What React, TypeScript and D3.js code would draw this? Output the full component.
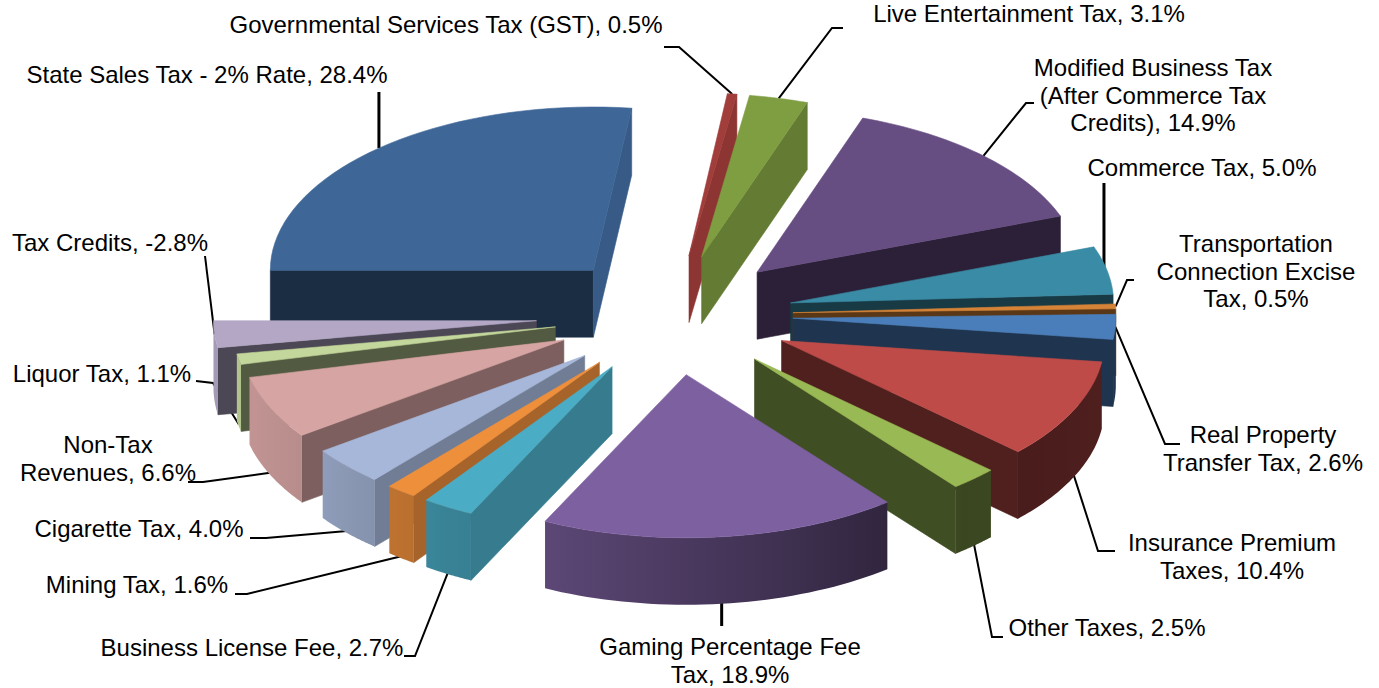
import * as d3 from "d3";

// Revenue shares, clockwise from the nine o'clock position.
const categories = [
  "State Sales Tax - 2% Rate",
  "Governmental Services Tax (GST)",
  "Live Entertainment Tax",
  "Modified Business Tax (After Commerce Tax Credits)",
  "Commerce Tax",
  "Transportation Connection Excise Tax",
  "Real Property Transfer Tax",
  "Insurance Premium Taxes",
  "Other Taxes",
  "Gaming Percentage Fee Tax",
  "Business License Fee",
  "Mining Tax",
  "Cigarette Tax",
  "Non-Tax Revenues",
  "Liquor Tax",
  "Tax Credits",
];
const shares = [28.4, 0.5, 3.1, 14.9, 5.0, 0.5, 2.6, 10.4, 2.5, 18.9, 2.7, 1.6, 4.0, 6.6, 1.1, -2.8];
const topColors = [
  "#3e6798", "#a13d3a", "#7f9e41", "#664d82", "#3a8ba5", "#d58337", "#4a7ebb", "#be4b48",
  "#98b954", "#7d60a0", "#4bacc6", "#ee8f3c", "#a6b7d9", "#d6a4a3", "#c3d69b", "#b3a7c5",
];

// Wrapped label text, one entry per slice.
const labelLines = [
  ["State Sales Tax - 2% Rate, 28.4%"],
  ["Governmental Services Tax (GST), 0.5%"],
  ["Live Entertainment Tax, 3.1%"],
  ["Modified Business Tax", "(After Commerce Tax", "Credits), 14.9%"],
  ["Commerce Tax, 5.0%"],
  ["Transportation", "Connection Excise", "Tax, 0.5%"],
  ["Real Property", "Transfer Tax, 2.6%"],
  ["Insurance Premium", "Taxes, 10.4%"],
  ["Other Taxes, 2.5%"],
  ["Gaming Percentage Fee", "Tax, 18.9%"],
  ["Business License Fee, 2.7%"],
  ["Mining Tax, 1.6%"],
  ["Cigarette Tax, 4.0%"],
  ["Non-Tax", "Revenues, 6.6%"],
  ["Liquor Tax, 1.1%"],
  ["Tax Credits, -2.8%"],
];

// Label placement: centre x, first baseline, the leader's free end, and how it meets the slice.
type Placement = {
  x: number;
  y: number;
  leader: [number, number][];
  width?: number;
  onTop?: boolean;
  vertical?: boolean;
  shiftX?: number;
};
const labelPlacement: Placement[] = [
  { x: 207, y: 83, leader: [[0, 92]], width: 3, vertical: true },
  { x: 446, y: 33, leader: [[679, 47], [664, 47]] },
  { x: 1029, y: 22, leader: [[832, 28], [843, 28]] },
  { x: 1153, y: 76, leader: [[1026, 103], [1034, 103]] },
  { x: 1202, y: 176, leader: [[0, 183]], width: 3, vertical: true, shiftX: -3 },
  { x: 1256, y: 252, leader: [[1127, 280], [1134, 280]] },
  { x: 1263, y: 443, leader: [[1165, 444], [1180, 444]], onTop: true },
  { x: 1232, y: 551, leader: [[1098, 551], [1115, 551]] },
  { x: 1107, y: 636, leader: [[992, 637], [1003, 637]] },
  { x: 730, y: 655, leader: [[0, 626]], width: 3, vertical: true },
  { x: 252, y: 656, leader: [[415, 656], [404, 656]] },
  { x: 137, y: 593, leader: [[247, 594], [235, 594]] },
  { x: 139, y: 537, leader: [[266, 538], [250, 538]] },
  { x: 108, y: 453, leader: [[203, 482], [188, 482]] },
  { x: 102, y: 382, leader: [[213, 383], [196, 381]] },
  { x: 110, y: 251, leader: [[205, 256]], onTop: true },
];

const WIDTH = 1379;
const HEIGHT = 688;
const CENTER = { x: 673, y: 315 };
const RADIUS = 323;
const SQUASH = 0.505;
const EXPLODE = 120;
const TAX_CREDITS_EXPLODE = 137;
const DEPTH = 67;
const TO_RAD = Math.PI / 180;

// Wall brightness against the direction the wall faces, in degrees clockwise from the top.
const edgeShade = d3
  .scaleLinear()
  .domain([7, 19, 70, 141, 206, 221, 234, 257, 270])
  .range([0.88, 0.78, 0.42, 0.42, 0.72, 0.68, 0.58, 0.42, 0.44])
  .clamp(true);
const rimShade = d3
  .scaleLinear()
  .domain([90, 140, 206, 235, 262])
  .range([0.42, 0.38, 0.74, 0.86, 0.92])
  .clamp(true);

const pie = d3
  .pie<number>()
  .value((v) => Math.abs(v))
  .sort(null)
  .startAngle(-Math.PI / 2)
  .endAngle(1.5 * Math.PI);

const line = d3.line();
const shade = (color: string, f: number) => d3.interpolateRgb("#000", color)(f);

type Pt = [number, number];

function buildSlice(start: number, end: number, explode: number) {
  const mid = (start + end) / 2;
  const ax = CENTER.x + explode * Math.sin(mid);
  const ay = CENTER.y - explode * Math.cos(mid) * 0.5;
  const rim = (t: number, drop = 0): Pt => [
    ax + RADIUS * Math.sin(t),
    ay - RADIUS * SQUASH * Math.cos(t) + drop,
  ];
  const arcPts = (a: number, b: number, drop = 0): Pt[] =>
    d3.range(0, 41).map((i) => rim(a + ((b - a) * i) / 40, drop));
  return { start, end, mid, ax, ay, rim, arcPts };
}

export default function App() {
  const arcs = pie(shares);
  const slices = arcs.map((a, i) => ({
    ...buildSlice(a.startAngle, a.endAngle, shares[i] < 0 ? TAX_CREDITS_EXPLODE : EXPLODE),
    i,
  }));
  // Farther slices are painted first.
  const painted = [...slices].sort((p, q) => -Math.cos(p.mid) - -Math.cos(q.mid));

  return (
    <svg
      width={WIDTH}
      height={HEIGHT}
      style={{ position: "absolute", left: 0, top: 0, background: "#fff" }}
      fontFamily="'Liberation Sans', Arial, sans-serif"
    >
      <defs>
        {slices.map((s) => {
          const a = Math.max(s.start, Math.PI / 2);
          const b = Math.min(s.end, 1.5 * Math.PI);
          if (b <= a) return null;
          const x1 = s.rim(a)[0];
          const x2 = s.rim(b)[0];
          return (
            <linearGradient
              key={s.i}
              id={`rim-${s.i}`}
              gradientUnits="userSpaceOnUse"
              x1={x1}
              x2={x2}
              y1={0}
              y2={0}
            >
              {d3.range(0, 9).map((k) => {
                const t = a + ((b - a) * k) / 8;
                const off = (s.rim(t)[0] - x1) / (x2 - x1 || 1);
                return (
                  <stop
                    key={k}
                    offset={off}
                    stopColor={shade(topColors[s.i], rimShade(t / TO_RAD))}
                  />
                );
              })}
            </linearGradient>
          );
        })}
      </defs>

      <g fill="none" stroke="#000" strokeWidth={2}>
        {slices.map((s) => {
          const p = labelPlacement[s.i];
          const front = Math.cos(s.mid) < 0 && !p.onTop;
          const raw = s.rim(s.mid, front ? DEPTH - 2 : 0);
          const anchor: Pt = [raw[0] + (p.shiftX ?? 0), raw[1]];
          const free: Pt[] = p.vertical ? [[anchor[0], p.leader[0][1]]] : p.leader;
          return (
            <path key={s.i} d={line([anchor, ...free]) ?? ""} strokeWidth={p.width ?? 2} />
          );
        })}
      </g>

      {painted.map((s) => {
        const c = topColors[s.i];
        const apexLow: Pt = [s.ax, s.ay + DEPTH];
        const walls: { d: string; fill: string }[] = [];
        // Only the straight wall facing the viewer is drawn for each edge.
        if (Math.sin(s.start) < 0) {
          walls.push({
            d:
              (line([[s.ax, s.ay], s.rim(s.start), s.rim(s.start, DEPTH), apexLow]) ?? "") + "Z",
            fill: shade(c, edgeShade(((s.start / TO_RAD) + 360) % 360)),
          });
        }
        if (Math.sin(s.end) > 0) {
          walls.push({
            d: (line([[s.ax, s.ay], s.rim(s.end), s.rim(s.end, DEPTH), apexLow]) ?? "") + "Z",
            fill: shade(c, edgeShade(((s.end / TO_RAD) + 360) % 360)),
          });
        }
        const a = Math.max(s.start, Math.PI / 2);
        const b = Math.min(s.end, 1.5 * Math.PI);
        const top = (line([[s.ax, s.ay], ...s.arcPts(s.start, s.end)]) ?? "") + "Z";
        return (
          <g key={s.i}>
            {walls.map((w, k) => (
              <path key={k} d={w.d} fill={w.fill} stroke={w.fill} strokeWidth={0.6} />
            ))}
            {b > a && (
              <path
                d={(line([...s.arcPts(a, b), ...s.arcPts(b, a, DEPTH)]) ?? "") + "Z"}
                fill={`url(#rim-${s.i})`}
              />
            )}
            <path d={top} fill={c} stroke={c} strokeWidth={0.6} />
          </g>
        );
      })}

      <g fontSize={24} fill="#000" textAnchor="middle">
        {labelLines.map((lines, i) =>
          lines.map((txt, k) => (
            <text
              key={`${i}-${k}`}
              x={labelPlacement[i].x}
              y={labelPlacement[i].y + k * 27.5}
            >
              {txt}
            </text>
          )),
        )}
      </g>
    </svg>
  );
}
